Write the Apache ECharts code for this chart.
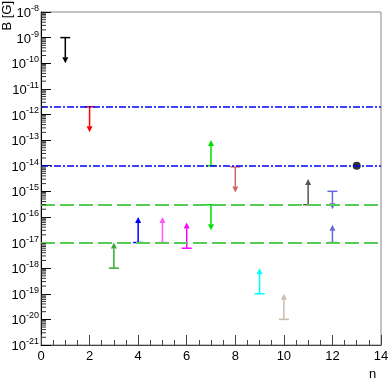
<!DOCTYPE html>
<html lang="en">
  <head>
    <meta charset="UTF-8" />
    <title>B limits</title>
    <style>
      html, body { margin: 0; padding: 0; background: #fff; }
      #main { width: 391px; height: 387px; }
    </style>
  </head>
  <body>
    <div id="main"></div>
    <script src="https://cdn.jsdelivr.net/npm/echarts@6/dist/echarts.min.js"></script>
    <script>
      // limits: flat bar at "from", arrow pointing to "to"
      let limN = [1, 2, 3, 4, 5, 6, 7, 7, 8, 9, 10, 11, 12, 12]
      let limFrom = [1e-9, 2e-12, 1e-18, 1e-17, 1e-17, 6e-18, 1e-14, 3e-16, 9e-15, 1e-19, 1e-20, 3e-16, 1e-15, 1e-17]
      let limTo = [1e-10, 2e-13, 1e-17, 1e-16, 1e-16, 6e-17, 1e-13, 3e-17, 9e-16, 1e-18, 1e-19, 3e-15, 2e-16, 5e-17]
      let limColors = ['#000000', '#ff0000', '#33aa33', '#0000ff', '#ff55ff', '#ff00ff', '#00dd00', '#00dd00',
        '#cc6666', '#00ffff', '#c8bcb0', '#555555', '#6666dd', '#6666dd']

      // measured point
      let pointN = [13]
      let pointB = [1e-14]

      // reference levels
      let blueLevels = [2e-12, 1e-14]
      let greenLevels = [3e-16, 1e-17]

      // axes (y is drawn in decades: log10 of B)
      let xMin = 0, xMax = 14, xStep = 2
      let yMinExp = -21, yMaxExp = -8

      // log minor ticks 2..9 in each decade
      let yMinor = []
      for (let e = yMinExp; e < yMaxExp; e++) {
        for (let k = 2; k <= 9; k++) yMinor.push(Math.log10(k) + e)
      }

      let lg = Math.log10
      let font = 'Liberation Sans, Arial, sans-serif'
      let myChart = echarts.init(document.getElementById('main'))

      let titles = [
        { type: 'text', id: 'ytitle', x: 1, y: 1, rotation: Math.PI / 2,
          style: { text: 'B [G]', font: '13px ' + font, fill: '#000', align: 'right', verticalAlign: 'top' } },
        { type: 'text', id: 'xtitle', x: 369, y: 368,
          style: { text: 'n', font: '13px ' + font, fill: '#000' } }
      ]

      let option = {
        animation: false,
        grid: { left: 41, right: 10, top: 12, bottom: 42, outerBoundsMode: 'none',
          show: true, borderColor: '#888', borderWidth: 1 },
        xAxis: {
          type: 'value',
          min: xMin, max: xMax, interval: xStep,
          axisLine: { lineStyle: { color: '#444', width: 1 } },
          axisTick: { inside: true, length: 10, lineStyle: { color: '#444' } },
          minorTick: { show: true, splitNumber: 4, length: 5, lineStyle: { color: '#444' } },
          splitLine: { show: false },
          axisLabel: { fontFamily: font, fontSize: 13, color: '#000', margin: 5 }
        },
        yAxis: {
          type: 'value',
          min: yMinExp, max: yMaxExp, interval: 1,
          axisLine: { show: true, lineStyle: { color: '#000', width: 1 } },
          axisTick: { show: true, inside: true, length: 10, lineStyle: { color: '#000' } },
          splitLine: { show: false },
          axisLabel: {
            margin: 2,
            formatter: function (v) {
              return '{b|10}{s|' + v + '}'
            },
            rich: {
              b: { fontFamily: font, fontSize: 13, color: '#000', lineHeight: 16, verticalAlign: 'bottom' },
              s: { fontFamily: font, fontSize: 9, color: '#000', lineHeight: 10, verticalAlign: 'top' }
            }
          }
        },
        graphic: titles,
        series: [
          {
            type: 'scatter',
            data: pointN.map(function (n, i) { return [n, lg(pointB[i])] }),
            symbol: 'circle',
            symbolSize: 8,
            itemStyle: { color: '#000' },
            markLine: {
              silent: true,
              symbol: 'none',
              label: { show: false },
              data: blueLevels.map(function (v) {
                return { yAxis: lg(v), lineStyle: { color: '#0000ff', width: 1.5, type: [7, 2, 2, 2] } }
              }).concat(greenLevels.map(function (v) {
                return { yAxis: lg(v), lineStyle: { color: '#55cc55', width: 2, type: [14, 5] } }
              }))
            }
          },
          {
            type: 'custom',
            silent: true,
            data: limN.map(function (n, i) { return [n, lg(limFrom[i]), lg(limTo[i])] }),
            encode: { x: 0, y: [1, 2] },
            renderItem: function (params, api) {
              let p0 = api.coord([api.value(0), api.value(1)])
              let p1 = api.coord([api.value(0), api.value(2)])
              let color = limColors[params.dataIndex]
              let dir = p1[1] < p0[1] ? -1 : 1
              let head = 6
              return {
                type: 'group',
                children: [
                  { type: 'line', shape: { x1: p0[0] - 5, y1: p0[1], x2: p0[0] + 5, y2: p0[1] },
                    style: { stroke: color, lineWidth: 1.5 } },
                  { type: 'line', shape: { x1: p0[0], y1: p0[1], x2: p1[0], y2: p1[1] - dir * head },
                    style: { stroke: color, lineWidth: 1.5 } },
                  { type: 'polygon', shape: { points: [[p1[0], p1[1]], [p1[0] - 3, p1[1] - dir * head], [p1[0] + 3, p1[1] - dir * head]] },
                    style: { fill: color } }
                ]
              }
            }
          }
        ]
      }
      myChart.setOption(option)

      // minor ticks of the log axis, placed through the chart's own scale
      let minorTicks = yMinor.map(function (v, i) {
        let p = myChart.convertToPixel({ gridIndex: 0 }, [xMin, v])
        return { type: 'line', id: 'mt' + i, silent: true, z: 10,
          shape: { x1: p[0], y1: p[1], x2: p[0] + 5, y2: p[1] },
          style: { stroke: '#333', lineWidth: 1 } }
      })
      myChart.setOption({ graphic: titles.concat(minorTicks) })
    </script>
  </body>
</html>
